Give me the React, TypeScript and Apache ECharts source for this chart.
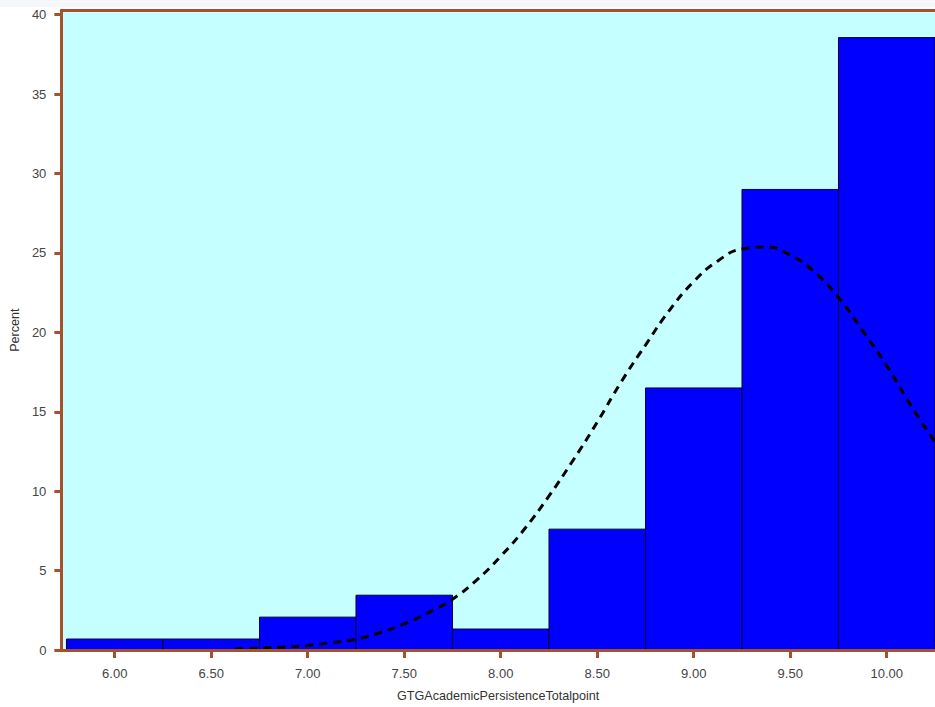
import React, { useEffect, useRef } from "react";
import * as echarts from "echarts";

const binCenters = [6.0, 6.5, 7.0, 7.5, 8.0, 8.5, 9.0, 9.5, 10.0];
const binPercents = [0.69, 0.69, 2.07, 3.45, 1.32, 7.61, 16.5, 29.0, 38.56];
const binWidth = 0.5;

const curveX = [
  6.625, 6.75, 6.875, 7.0, 7.125, 7.25, 7.375, 7.5, 7.625, 7.75, 7.875, 8.0, 8.125, 8.25, 8.375,
  8.5, 8.625, 8.75, 8.875, 9.0, 9.125, 9.25, 9.375, 9.5, 9.625, 9.75, 9.875, 10.0, 10.125, 10.25,
];
const curveY = [
  0.06, 0.12, 0.19, 0.29, 0.47, 0.68, 1.1, 1.65, 2.35, 3.2, 4.4, 5.9, 7.65, 9.7, 11.95,
  14.35, 16.9, 19.2, 21.4, 23.2, 24.5, 25.25, 25.38, 24.86, 23.8, 22.2, 20.1, 17.9, 15.4, 13.1,
];

const xTicks = [6.0, 6.5, 7.0, 7.5, 8.0, 8.5, 9.0, 9.5, 10.0];
const yTicks = [0, 5, 10, 15, 20, 25, 30, 35, 40];

const xTitle = "GTGAcademicPersistenceTotalpoint";
const yTitle = "Percent";

const BROWN = "#a5522b";
const FONT = "Liberation Sans, Arial, sans-serif";

export default function App() {
  const ref = useRef<HTMLDivElement>(null);
  useEffect(() => {
    if (!ref.current) return;
    const chart = echarts.init(ref.current, null, { renderer: "svg" });
    const axisLabelStyle = { color: "#444", fontSize: 13, fontFamily: FONT };
    chart.setOption({
      animation: false,
      backgroundColor: "#ffffff",
      graphic: [
        {
          type: "rect",
          left: 0,
          top: 0,
          shape: { x: 0, y: 0, width: 935, height: 7 },
          style: { fill: "#f6f7fb" },
          z: -1,
        },
      ],
      grid: {
        left: 59.5,
        right: 0,
        top: 10.3,
        bottom: 54.7,
        show: true,
        backgroundColor: "#c6ffff",
        borderWidth: 0,
      },
      xAxis: [
        {
          type: "value",
          position: "bottom",
          min: 5.7234,
          max: 10.25,
          z: 5,
          name: xTitle,
          nameLocation: "middle",
          nameGap: 39,
          nameTextStyle: { color: "#333", fontSize: 12.6, fontFamily: FONT },
          axisLine: { show: true, onZero: false, lineStyle: { color: BROWN, width: 3 } },
          axisTick: { show: true, length: 8, customValues: xTicks, lineStyle: { color: BROWN, width: 3 } },
          axisLabel: {
            ...axisLabelStyle,
            margin: 17,
            customValues: xTicks,
            formatter: (v: number) => v.toFixed(2),
          },
          splitLine: { show: false },
        },
        {
          type: "value",
          position: "top",
          min: 5.7234,
          max: 10.25,
          z: 5,
          axisLine: { show: true, onZero: false, lineStyle: { color: BROWN, width: 3 } },
          axisTick: { show: false },
          axisLabel: { show: false },
          splitLine: { show: false },
        },
      ],
      yAxis: {
        type: "value",
        min: 0,
        max: 40.28,
        z: 5,
        name: yTitle,
        nameLocation: "middle",
        nameGap: 33,
        nameTextStyle: { color: "#333", fontSize: 12.6, fontFamily: FONT },
        axisLine: { show: true, onZero: false, lineStyle: { color: BROWN, width: 3 } },
        axisTick: { show: true, length: 7, customValues: yTicks, lineStyle: { color: BROWN, width: 3 } },
        axisLabel: { ...axisLabelStyle, margin: 15, customValues: yTicks },
        splitLine: { show: false },
      },
      series: [
        {
          type: "custom",
          z: 2,
          clip: true,
          xAxisIndex: 0,
          encode: { x: 0, y: 1 },
          data: binCenters.map((c, i) => [c, binPercents[i]]),
          renderItem: (params: any, api: any) => {
            const x = api.value(0);
            const y = api.value(1);
            const p1 = api.coord([x - binWidth / 2, y]);
            const p2 = api.coord([x + binWidth / 2, 0]);
            return {
              type: "rect",
              shape: { x: p1[0], y: p1[1], width: p2[0] - p1[0], height: p2[1] - p1[1] },
              style: { fill: "#0000ff", stroke: "#000033", lineWidth: 1 },
            };
          },
        },
        {
          type: "line",
          z: 3,
          xAxisIndex: 0,
          smooth: 0.5,
          showSymbol: false,
          symbol: "none",
          data: curveX.map((x, i) => [x, curveY[i]]),
          lineStyle: { color: "#000", width: 3, type: [8, 6] },
        },
      ],
    });
    return () => chart.dispose();
  }, []);
  return (
    <div
      ref={ref}
      style={{ position: "absolute", left: 0, top: 0, width: 935, height: 707 }}
    />
  );
}
